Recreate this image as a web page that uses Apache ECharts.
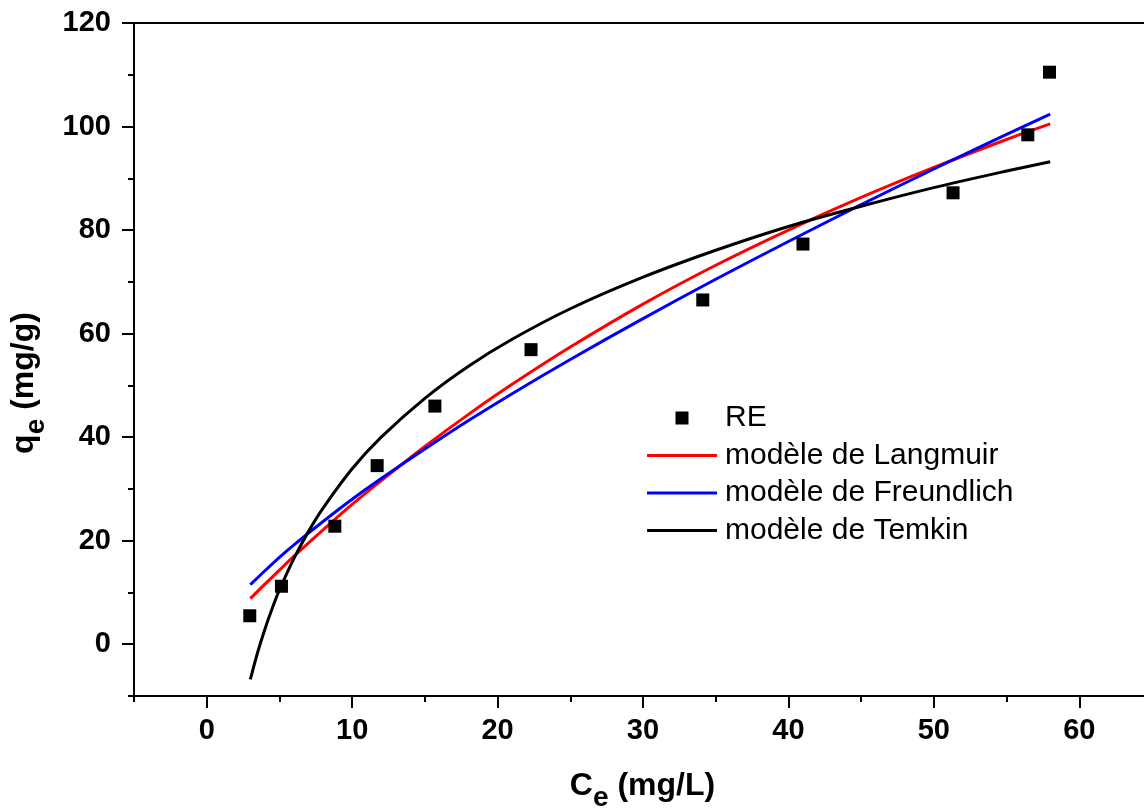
<!DOCTYPE html>
<html>
<head>
<meta charset="utf-8">
<script src="https://cdn.jsdelivr.net/npm/echarts@6/dist/echarts.min.js"></script>
<style>
  html, body { margin: 0; padding: 0; background: #fff; }
  #chart { width: 1144px; height: 811px; }
</style>
</head>
<body>
<div id="chart"></div>
<script>
// Experimental equilibrium data (RE)
const ce = [2.96, 5.14, 8.81, 11.72, 15.69, 22.3, 34.11, 41.0, 51.32, 56.46, 57.95];
const qe = [5.5, 11.2, 22.8, 34.5, 46.0, 56.9, 66.5, 77.3, 87.2, 98.4, 110.5];

// Fitted isotherm curves
const langmuirX = [3, 4, 5, 6, 8, 10, 12, 15, 18, 21, 25, 30, 35, 40, 45, 50, 55, 58];
const langmuirQ = [8.8, 11.6, 14.3, 17.0, 22.1, 27.0, 31.6, 38.2, 44.4, 50.2, 57.4, 65.7, 73.2, 80.0, 86.3, 92.1, 97.5, 100.5];

const freundlichX = [3, 4, 5, 6, 8, 10, 12, 15, 18, 21, 25, 30, 35, 40, 45, 50, 55, 58];
const freundlichQ = [11.5, 14.2, 16.8, 19.2, 23.7, 28.0, 32.0, 37.7, 43.2, 48.4, 55.0, 62.9, 70.5, 77.8, 84.9, 91.8, 98.5, 102.4];

const temkinX = [3, 3.5, 4, 4.5, 5, 6, 7, 8, 10, 12, 15, 18, 21, 25, 30, 35, 40, 45, 50, 55, 58];
const temkinQ = [-6.8, -1.6, 2.9, 6.9, 10.5, 16.6, 21.8, 26.3, 33.9, 40.0, 47.5, 53.7, 58.9, 64.8, 70.9, 76.1, 80.7, 84.6, 88.2, 91.4, 93.2];

// Axis ticks
const xMajorTicks = [0, 10, 20, 30, 40, 50, 60];
const yMajorTicks = [0, 20, 40, 60, 80, 100, 120];

const FONT = 'Liberation Sans, Arial, Helvetica, sans-serif';

const zip = (xs, ys) => xs.map((x, i) => [x, ys[i]]);

const axisLineStyle = { show: true, onZero: false, lineStyle: { color: '#000', width: 2 } };

const titleRich = {
  a: { fontFamily: FONT, fontSize: 32, fontWeight: 'bold', color: '#000', lineHeight: 32, verticalAlign: 'top' },
  b: { fontFamily: FONT, fontSize: 28, fontWeight: 'bold', color: '#000', lineHeight: 42, verticalAlign: 'bottom' }
};

// Legend glyphs: a small filled square and a short horizontal stroke
const squareIcon = 'path://M0,0L10,0L10,10L0,10Z';
const strokeIcon = 'path://M0,0L70,0L70,3L0,3Z';

const chart = echarts.init(document.getElementById('chart'), null, { renderer: 'canvas' });

chart.setOption({
  animation: false,
  backgroundColor: '#fff',
  grid: { left: 134, top: 23, right: -8, bottom: 115, containLabel: false, outerBoundsMode: 'none' },
  xAxis: [
    { // minor ticks every 5
      type: 'value', min: -5, max: 65, interval: 5, position: 'bottom',
      axisLine: axisLineStyle,
      axisTick: { show: true, inside: false, length: 6, lineStyle: { color: '#000', width: 2 } },
      axisLabel: { show: false },
      splitLine: { show: false }
    },
    { // major ticks and labels
      type: 'value', min: -5, max: 65, position: 'bottom',
      axisLine: axisLineStyle,
      axisTick: { show: true, inside: false, length: 12, customValues: xMajorTicks, lineStyle: { color: '#000', width: 2 } },
      axisLabel: { show: true, customValues: xMajorTicks, margin: 20, color: '#000', fontFamily: FONT, fontSize: 29, fontWeight: 'bold' },
      splitLine: { show: false }
    },
    { // top frame
      type: 'value', min: -5, max: 65, position: 'top',
      axisLine: axisLineStyle,
      axisTick: { show: false },
      axisLabel: { show: false },
      splitLine: { show: false }
    }
  ],
  yAxis: [
    { // minor ticks every 10
      type: 'value', min: -10, max: 120, interval: 10, position: 'left',
      axisLine: axisLineStyle,
      axisTick: { show: true, inside: false, length: 6, lineStyle: { color: '#000', width: 2 } },
      axisLabel: { show: false },
      splitLine: { show: false }
    },
    { // major ticks and labels
      type: 'value', min: -10, max: 120, position: 'left',
      axisLine: axisLineStyle,
      axisTick: { show: true, inside: false, length: 12, customValues: yMajorTicks, lineStyle: { color: '#000', width: 2 } },
      axisLabel: { show: true, customValues: yMajorTicks, margin: 23, color: '#000', fontFamily: FONT, fontSize: 29, fontWeight: 'bold' },
      splitLine: { show: false }
    }
  ],
  legend: {
    orient: 'vertical',
    left: 647,
    top: 403,
    padding: 0,
    itemGap: 7.5,
    itemWidth: 70,
    itemHeight: 13,
    symbolKeepAspect: true,
    textStyle: { color: '#000', fontFamily: FONT, fontSize: 30, lineHeight: 30, padding: [0, 0, 0, 3] },
    data: [
      { name: 'RE', icon: squareIcon },
      { name: 'modèle de Langmuir', icon: strokeIcon },
      { name: 'modèle de Freundlich', icon: strokeIcon },
      { name: 'modèle de Temkin', icon: strokeIcon }
    ]
  },
  graphic: [
    {
      type: 'text', x: 642.5, y: 791,
      style: { text: '{a|C}{b|e}{a| (mg/L)}', rich: titleRich, textAlign: 'center', textVerticalAlign: 'middle' }
    },
    {
      type: 'text', x: 29, y: 383, rotation: Math.PI / 2,
      style: { text: '{a|q}{b|e}{a| (mg/g)}', rich: titleRich, textAlign: 'center', textVerticalAlign: 'middle' }
    }
  ],
  series: [
    {
      name: 'modèle de Langmuir', type: 'line', xAxisIndex: 0, yAxisIndex: 0,
      data: zip(langmuirX, langmuirQ), smooth: 0.3, symbol: 'none', showSymbol: false,
      lineStyle: { color: '#ff0000', width: 3 }, itemStyle: { color: '#ff0000' }, z: 2
    },
    {
      name: 'modèle de Freundlich', type: 'line', xAxisIndex: 0, yAxisIndex: 0,
      data: zip(freundlichX, freundlichQ), smooth: 0.3, symbol: 'none', showSymbol: false,
      lineStyle: { color: '#0000ff', width: 3 }, itemStyle: { color: '#0000ff' }, z: 2
    },
    {
      name: 'modèle de Temkin', type: 'line', xAxisIndex: 0, yAxisIndex: 0,
      data: zip(temkinX, temkinQ), smooth: 0.3, symbol: 'none', showSymbol: false,
      lineStyle: { color: '#000000', width: 3 }, itemStyle: { color: '#000000' }, z: 2
    },
    {
      name: 'RE', type: 'scatter', xAxisIndex: 0, yAxisIndex: 0,
      data: zip(ce, qe), symbol: 'rect', symbolSize: 13,
      itemStyle: { color: '#000', opacity: 1 }, z: 3
    }
  ]
});
</script>
</body>
</html>
